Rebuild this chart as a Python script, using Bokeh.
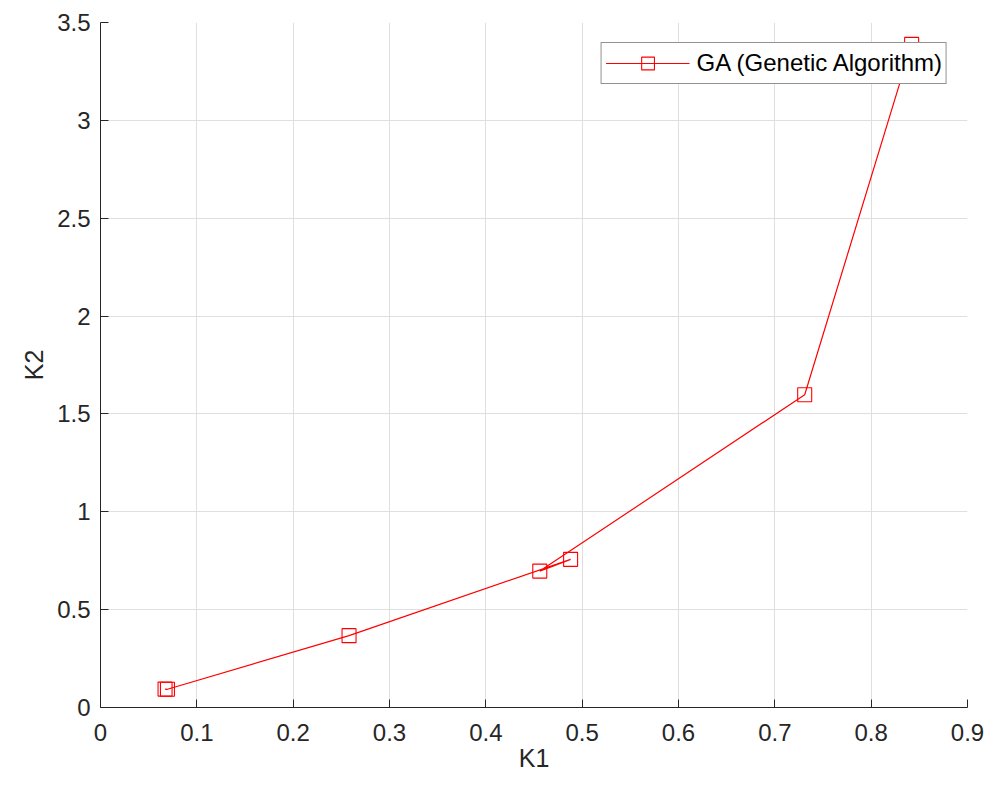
from bokeh.plotting import figure
from bokeh.models import Range1d, FixedTicker, Legend, LegendItem
from bokeh.embed import file_html
from bokeh.resources import INLINE

# ---- data ----
k1 = [0.067, 0.0695, 0.258, 0.488, 0.456, 0.731, 0.842]
k2 = [0.094, 0.093, 0.367, 0.757, 0.697, 1.598, 3.388]
series_name = "GA (Genetic Algorithm)"

x_ticks = [0, 0.1, 0.2, 0.3, 0.4, 0.5, 0.6, 0.7, 0.8, 0.9]
x_tick_labels = ["0", "0.1", "0.2", "0.3", "0.4", "0.5", "0.6", "0.7", "0.8", "0.9"]
y_ticks = [0, 0.5, 1, 1.5, 2, 2.5, 3, 3.5]
y_tick_labels = ["0", "0.5", "1", "1.5", "2", "2.5", "3", "3.5"]
x_label = "K1"
y_label = "K2"

FONT = "Liberation Sans"
AX = "#262626"

p = figure(width=984, height=774, output_backend="svg", toolbar_location=None,
           x_range=Range1d(0, 0.9), y_range=Range1d(0, 3.5),
           min_border_left=100, min_border_right=17, min_border_top=22, min_border_bottom=67)
p.outline_line_color = None
p.background_fill_color = "white"
p.border_fill_color = "white"

r_line = p.line(k1, k2, line_color="#ff0000", line_width=1.2)
r_mark = p.scatter(k1, k2, marker="square", size=14, fill_color=None,
                   line_color="#ff0000", line_width=1.1)

for ax, ticks, labels, lab in ((p.xaxis[0], x_ticks, x_tick_labels, x_label),
                               (p.yaxis[0], y_ticks, y_tick_labels, y_label)):
    ax.ticker = FixedTicker(ticks=ticks, minor_ticks=[])
    ax.major_label_overrides = {t: l for t, l in zip(ticks, labels)}
    ax.axis_label = lab
    ax.axis_label_text_font = FONT
    ax.axis_label_text_font_size = "25px"
    ax.axis_label_text_font_style = "normal"
    ax.axis_label_text_color = AX
    ax.major_label_text_font = FONT
    ax.major_label_text_font_size = "24px"
    ax.major_label_text_color = AX
    ax.axis_line_color = AX
    ax.axis_line_width = 1
    ax.major_tick_line_color = AX
    ax.major_tick_in = 8
    ax.major_tick_out = 0
    ax.minor_tick_line_color = None

p.xaxis.major_label_standoff = 16
p.xaxis.axis_label_standoff = 0
p.yaxis.major_label_standoff = 10
p.yaxis.axis_label_standoff = 6

for g in (p.xgrid[0], p.ygrid[0]):
    g.grid_line_color = "#dfdfdf"
    g.grid_line_width = 1

legend = Legend(items=[LegendItem(label=series_name, renderers=[r_line, r_mark])],
                location="top_right", margin=20, padding=4, spacing=0,
                glyph_width=84, glyph_height=32, label_standoff=7,
                label_text_font=FONT, label_text_font_size="24px",
                label_text_color="black", border_line_color=AX, border_line_width=1,
                background_fill_color="white", background_fill_alpha=1)
p.add_layout(legend)

open("out.html", "w").write(file_html(p, INLINE))
